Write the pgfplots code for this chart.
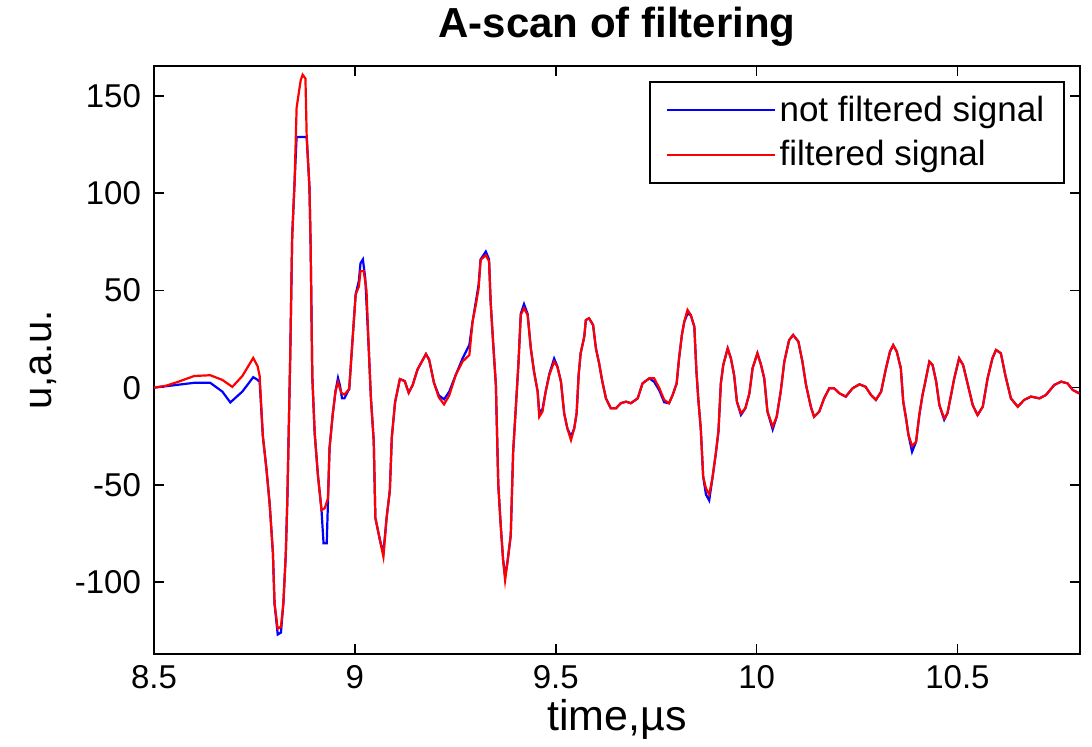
\documentclass[border=0pt]{standalone}
\usepackage{pgfplots}
\pgfplotsset{compat=1.18}
\usepackage{fontspec}
\setmainfont{Liberation Sans}
\begin{document}
\begin{tikzpicture}
\begin{axis}[
  at={(0,0)}, anchor=south west,
  scale only axis, width=463pt, height=294pt,
  xmin=8.5, xmax=10.805, ymin=-137, ymax=165.5,
  xtick={8.5,9,9.5,10,10.5}, xticklabels={8.5,9,9.5,10,10.5},
  ytick={-100,-50,0,50,100,150}, yticklabels={-100,-50,0,50,100,150},
  tick label style={font=\fontsize{16.5}{19}\selectfont},
  xticklabel style={yshift=-2pt},
  yticklabel style={xshift=-3pt},
  major tick length=5pt,
  tick style={black, line width=0.8pt},
  axis line style={black, line width=1pt},
  title={A-scan of filtering},
  title style={font=\fontsize{21}{24}\selectfont\bfseries, at={(axis description cs:0.5,1.047)}, anchor=center},
  xlabel={time,µs},
  xlabel style={font=\fontsize{21.5}{25}\selectfont, at={(axis description cs:0.5,-0.112)}, anchor=center},
  ylabel={u,a.u.},
  ylabel style={font=\fontsize{20}{24}\selectfont, at={(axis description cs:-0.12,0.5)}, anchor=center},
  legend style={at={(axis description cs:0.984,0.974)}, anchor=north east, draw=black, line width=1pt,
    font=\fontsize{17.5}{20}\selectfont, row sep=4pt, inner xsep=8pt, inner ysep=5pt, cells={anchor=west}},
  legend image code/.code={\draw[#1, line width=1pt] (0pt,0pt) -- (54pt,0pt);},
  legend cell align=left,
]
\addplot[blue, line width=1.1pt] coordinates {
(8.50,0) (8.54,1) (8.60,2.5) (8.64,2.5) (8.67,-2) (8.69,-7.6) (8.72,-2) (8.747,5.4) (8.758,4) (8.763,3)
(8.771,-25) (8.78,-42) (8.788,-60) (8.796,-85) (8.80,-111) (8.808,-127) (8.816,-126) (8.822,-111) (8.828,-86)
(8.832,-57) (8.839,15) (8.844,78) (8.85,106) (8.855,129) (8.88,129) (8.887,103) (8.89,72) (8.894,6)
(8.90,-23.5) (8.908,-45) (8.917,-63) (8.922,-80) (8.93,-80) (8.937,-31) (8.945,-13.5) (8.952,-1.6)
(8.958,5) (8.963,1) (8.968,-5.5) (8.974,-5.5) (8.986,-0.6) (8.994,24) (9.002,48) (9.01,55) (9.014,64)
(9.02,66) (9.026,56) (9.035,18) (9.04,-5.6) (9.047,-27.5) (9.051,-67) (9.063,-79) (9.071,-85) (9.079,-67)
(9.087,-53) (9.092,-25.5) (9.10,-7.6) (9.112,4.4) (9.124,3.4) (9.134,-2.6) (9.144,1.4) (9.156,9.4)
(9.177,17.3) (9.185,14.3) (9.197,2.4) (9.209,-4) (9.222,-6) (9.235,-2) (9.251,6.5) (9.268,15)
(9.285,22) (9.293,34) (9.301,44) (9.308,53) (9.313,66) (9.326,70) (9.334,66) (9.338,44) (9.344,23.7)
(9.351,1.4) (9.357,-50) (9.363,-70.6) (9.369,-88.6) (9.374,-97) (9.38,-89.5) (9.388,-76) (9.394,-33)
(9.401,-9) (9.407,11.7) (9.413,38) (9.421,43) (9.43,38) (9.438,20.2) (9.446,8.2) (9.455,-2)
(9.459,-13) (9.467,-11) (9.475,-2) (9.484,7) (9.496,15) (9.504,11) (9.513,3.1) (9.521,-13.2)
(9.529,-21) (9.538,-25) (9.546,-21) (9.552,-13.2) (9.557,6.5) (9.562,17.7) (9.571,26.2) (9.575,34.8)
(9.583,35.7) (9.593,32.2) (9.60,20.2) (9.608,12.5) (9.616,3.1) (9.625,-5.5) (9.637,-10.6) (9.65,-10.6)
(9.662,-8) (9.675,-7.2) (9.687,-8) (9.704,-5.5) (9.716,2.2) (9.733,4.8) (9.745,3) (9.758,-1.5)
(9.77,-7.5) (9.782,-8) (9.791,-3.8) (9.801,2.2) (9.807,15.1) (9.814,27.1) (9.82,34) (9.828,38)
(9.836,37.4) (9.845,31.4) (9.85,9.1) (9.855,-6.3) (9.861,-21) (9.867,-45.8) (9.874,-55) (9.882,-58)
(9.89,-46.6) (9.898,-34.6) (9.905,-22.6) (9.911,2.2) (9.917,11.7) (9.928,20.2) (9.936,15.1) (9.944,6.5)
(9.951,-7.2) (9.961,-14) (9.972,-10.6) (9.982,-3) (9.99,10) (10.002,17.7) (10.011,11.7) (10.019,4.8)
(10.027,-12.3) (10.04,-21.5) (10.05,-15) (10.06,-2) (10.069,13.4) (10.081,24.5) (10.091,27.1)
(10.104,23.7) (10.114,13.4) (10.123,1.4) (10.135,-9.8) (10.143,-15) (10.156,-12.3) (10.168,-5.5)
(10.181,-0.3) (10.193,-0.3) (10.206,-2.9) (10.222,-4.6) (10.239,-0.3) (10.256,1.7) (10.271,0.5)
(10.285,-3.8) (10.297,-6.3) (10.31,-2) (10.322,9.9) (10.332,18.5) (10.34,21.9) (10.349,18.5)
(10.359,9.9) (10.365,-7.2) (10.372,-15.8) (10.378,-24.3) (10.387,-33) (10.397,-27.8) (10.405,-14.1)
(10.413,-3.8) (10.42,3.1) (10.43,13.4) (10.438,11.7) (10.447,3.1) (10.455,-9) (10.467,-16.5)
(10.475,-13.2) (10.484,-3.8) (10.492,4.8) (10.504,15.1) (10.514,11.7) (10.525,2.2) (10.538,-9)
(10.55,-14.1) (10.563,-9.8) (10.575,4.8) (10.587,15.1) (10.596,19.4) (10.608,17.7) (10.619,6.5)
(10.633,-5.5) (10.65,-9.8) (10.666,-6.3) (10.683,-4.6) (10.704,-5.5) (10.72,-3.8) (10.741,1.4)
(10.758,3.1) (10.774,2.2) (10.787,-1.2) (10.803,-2.9)
};
\addlegendentry{not filtered signal}
\addplot[red, line width=1.1pt] coordinates {
(8.50,0) (8.53,1) (8.56,3) (8.60,6) (8.64,6.4) (8.67,4) (8.695,0.4) (8.72,6) (8.747,15.3) (8.758,11)
(8.763,6) (8.771,-25) (8.78,-42) (8.788,-60) (8.796,-85) (8.80,-111) (8.808,-124) (8.816,-123)
(8.822,-111) (8.828,-86) (8.832,-57) (8.839,15) (8.844,78) (8.85,106) (8.855,144) (8.865,158)
(8.87,161) (8.877,159) (8.88,130) (8.887,103) (8.89,72) (8.894,6) (8.90,-23.5) (8.908,-45)
(8.917,-63) (8.925,-62) (8.933,-57) (8.937,-31) (8.945,-13.5) (8.952,-1.6) (8.958,2.8) (8.966,-2.6)
(8.974,-3.6) (8.986,-0.6) (8.994,24) (9.002,48) (9.01,52) (9.014,60) (9.022,60) (9.029,50) (9.035,18)
(9.04,-5.6) (9.047,-27.5) (9.051,-67) (9.063,-79) (9.071,-87) (9.079,-67) (9.087,-53) (9.092,-25.5)
(9.10,-7.6) (9.112,4.4) (9.124,3.4) (9.134,-2.6) (9.144,1.4) (9.156,9.4) (9.177,17.3) (9.185,14.3)
(9.197,2.4) (9.209,-5) (9.222,-8.6) (9.235,-4) (9.251,6.5) (9.268,13.4) (9.285,16.8) (9.293,34)
(9.301,42.5) (9.308,51) (9.313,65.7) (9.326,68.2) (9.334,65) (9.338,44) (9.344,23.7) (9.351,1.4)
(9.357,-50) (9.363,-70.6) (9.369,-88.6) (9.374,-99) (9.38,-89.5) (9.388,-76) (9.394,-33) (9.401,-9)
(9.407,11.7) (9.413,37.4) (9.421,40.8) (9.43,37.4) (9.438,20.2) (9.446,8.2) (9.455,-2) (9.459,-15)
(9.467,-12.3) (9.475,-2) (9.484,6.5) (9.496,13.4) (9.504,10.8) (9.513,3.1) (9.521,-13.2) (9.529,-21)
(9.538,-27) (9.546,-21) (9.552,-13.2) (9.557,6.5) (9.562,17.7) (9.571,26.2) (9.575,34.8) (9.583,35.7)
(9.593,32.2) (9.60,20.2) (9.608,12.5) (9.616,3.1) (9.625,-5.5) (9.637,-10.6) (9.65,-10.6) (9.662,-8)
(9.675,-7.2) (9.687,-8) (9.704,-5.5) (9.716,2.2) (9.733,4.8) (9.745,4.8) (9.758,-0.3) (9.77,-6.3)
(9.782,-8) (9.791,-3.8) (9.801,2.2) (9.807,15.1) (9.814,27.1) (9.82,34) (9.828,40) (9.836,37.4)
(9.845,31.4) (9.85,9.1) (9.855,-6.3) (9.861,-21) (9.867,-45.8) (9.874,-51.8) (9.882,-55) (9.89,-46.6)
(9.898,-34.6) (9.905,-22.6) (9.911,2.2) (9.917,11.7) (9.928,20.2) (9.936,15.1) (9.944,6.5) (9.951,-7.2)
(9.961,-13.2) (9.972,-10.6) (9.982,-3) (9.99,10) (10.002,17.7) (10.011,11.7) (10.019,4.8) (10.027,-12.3)
(10.04,-20) (10.05,-15) (10.06,-2) (10.069,13.4) (10.081,24.5) (10.091,27.1) (10.104,23.7) (10.114,13.4)
(10.123,1.4) (10.135,-9.8) (10.143,-15) (10.156,-12.3) (10.168,-5.5) (10.181,-0.3) (10.193,-0.3)
(10.206,-2.9) (10.222,-4.6) (10.239,-0.3) (10.256,1.7) (10.271,0.5) (10.285,-3.8) (10.297,-6.3)
(10.31,-2) (10.322,9.9) (10.332,18.5) (10.34,21.9) (10.349,18.5) (10.359,9.9) (10.365,-7.2)
(10.372,-15.8) (10.378,-24.3) (10.387,-30) (10.397,-27.8) (10.405,-14.1) (10.413,-3.8) (10.42,3.1)
(10.43,13.4) (10.438,11.7) (10.447,3.1) (10.455,-9) (10.467,-15.8) (10.475,-13.2) (10.484,-3.8)
(10.492,4.8) (10.504,15.1) (10.514,11.7) (10.525,2.2) (10.538,-9) (10.55,-14.1) (10.563,-9.8)
(10.575,4.8) (10.587,15.1) (10.596,19.4) (10.608,17.7) (10.619,6.5) (10.633,-5.5) (10.65,-9.8)
(10.666,-6.3) (10.683,-4.6) (10.704,-5.5) (10.72,-3.8) (10.741,1.4) (10.758,3.1) (10.774,2.2)
(10.787,-1.2) (10.803,-2.9)
};
\addlegendentry{filtered signal}
\end{axis}
\path[use as bounding box] (-77pt,-44.5pt) rectangle (469pt,326pt);
\end{tikzpicture}
\end{document}
